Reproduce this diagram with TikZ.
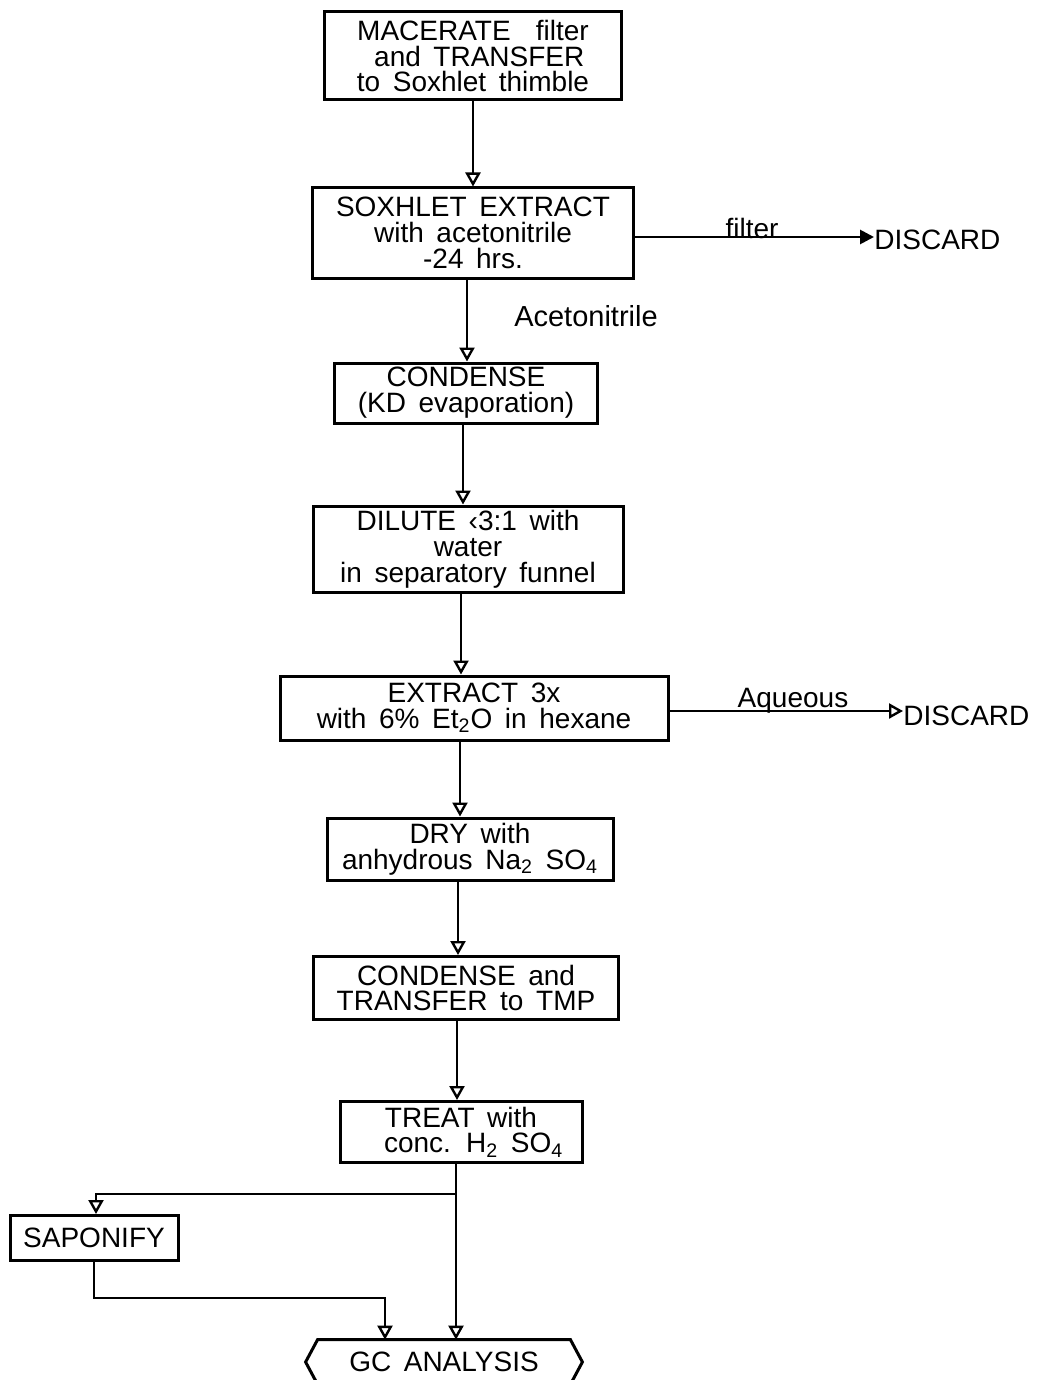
\documentclass[tikz,border=0pt]{standalone}
\usepackage{fontspec}
\setmainfont{Liberation Sans}
\usetikzlibrary{arrows.meta}
\newcommand\bxfont{\fontsize{14}{12.9}\selectfont\spaceskip 0.45em plus 0.1em minus 0.05em\relax}
\begin{document}
\begin{tikzpicture}[x=0.5pt,y=-0.5pt,
  box/.style={draw,line width=1.5pt,inner sep=0pt,align=center,font=\bxfont},
  lbl/.style={inner sep=0pt,font=\fontsize{14}{14}\selectfont},
  conn/.style={line width=1.4pt},
  arr/.style={conn,-{Triangle[open,width=7.5pt,length=7pt,line width=1.2pt]}},
  arrf/.style={conn,-{Triangle[width=7pt,length=7pt]}}]
\useasboundingbox (0,0) rectangle (1045,1380);
\fill[white] (0,0) rectangle (1045,1380);

\node[box,minimum width=148.5pt,minimum height=44pt] (m1) at (473,56)
  {MACERATE\ \ filter\\\ and TRANSFER\\to Soxhlet thimble};
\node[box,minimum width=160.5pt,minimum height=45pt] (m2) at (473,233)
  {SOXHLET EXTRACT\\with acetonitrile\\-24 hrs.};
\node[box,minimum width=131.5pt,minimum height=30pt] (m3) at (466,393)
  {CONDENSE\\(KD evaporation)};
\node[box,minimum width=155pt,minimum height=43pt] (m4) at (468,549)
  {DILUTE ‹3:1 with\\water\\in separatory funnel};
\node[box,minimum width=194pt,minimum height=32pt] (m5) at (474,708)
  {EXTRACT 3x\\with 6\% Et\textsubscript{2}O in hexane};
\node[box,minimum width=143pt,minimum height=31pt] (m6) at (470,849)
  {DRY with\\anhydrous Na\textsubscript{2} SO\textsubscript{4}};
\node[box,minimum width=152.5pt,minimum height=31.5pt] (m7) at (466,988)
  {CONDENSE and\\TRANSFER to TMP};
\node[box,minimum width=121pt,minimum height=30.5pt] (m8) at (461,1132)
  {TREAT with\\\ \ conc. H\textsubscript{2} SO\textsubscript{4}};
\node[box,minimum width=84pt,minimum height=22.5pt] (sap) at (94,1238)
  {SAPONIFY};
\node[inner sep=0pt,minimum width=126pt,minimum height=22pt,align=center,font=\bxfont] (gc) at (444,1362)
  {GC ANALYSIS};
\draw[line width=1.5pt] (gc.north west) -- (gc.north east) -- ([xshift=6pt]gc.east)
  -- (gc.south east) -- (gc.south west) -- ([xshift=-6pt]gc.west) -- cycle;

\node[lbl,anchor=west] (d1) at (874,240) {DISCARD};
\node[lbl,anchor=west] (d2) at (903,716) {DISCARD};
\node[lbl] (lf) at (752,228) {filter};
\node[lbl,font=\fontsize{14.5}{14.5}\selectfont] (la) at (586,316) {Acetonitrile};
\node[lbl] (lq) at (793,701) {Aqueous};

\draw[arr] (m1.south -| 473,0) -- (473,0 |- m2.north);
\draw[arr] (m2.south -| 467,0) -- (467,0 |- m3.north);
\draw[arr] (m3.south -| 463,0) -- (463,0 |- m4.north);
\draw[arr] (m4.south -| 461,0) -- (461,0 |- m5.north);
\draw[arr] (m5.south -| 460,0) -- (460,0 |- m6.north);
\draw[arr] (m6.south -| 458,0) -- (458,0 |- m7.north);
\draw[arr] (m7.south -| 457,0) -- (457,0 |- m8.north);
\draw[arr] (m8.south -| 456,0) -- (456,0 |- gc.north);
\coordinate (split) at (456,1194);
\draw[arr] (split) -- (96,1194) -- (96,0 |- sap.north);
\draw[arr] (sap.south) |- (385,1298) -- (385,0 |- gc.north);

\draw[arrf] (m2.east |- 0,237) -- (d1.west |- 0,237);
\draw[arr] (m5.east |- 0,711) -- (d2.west |- 0,711);
\end{tikzpicture}
\end{document}
